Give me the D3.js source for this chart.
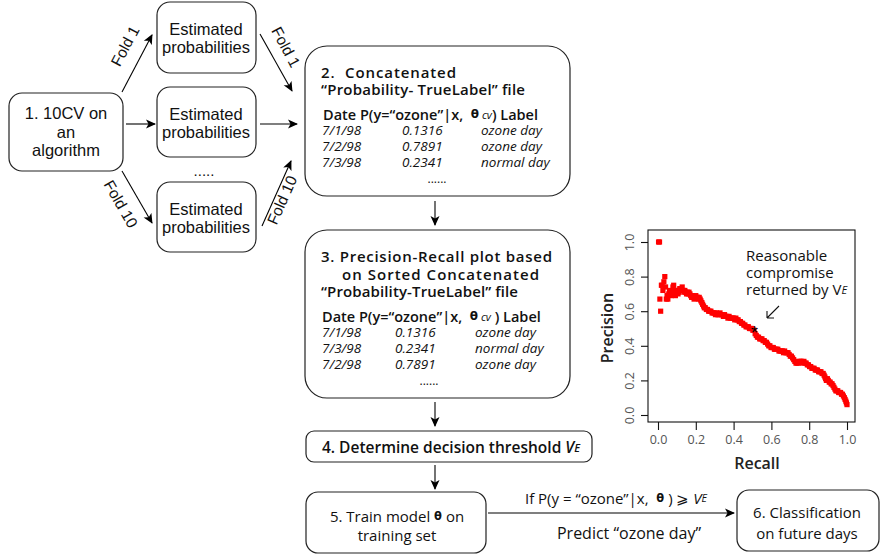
<!DOCTYPE html>
<html>
<head>
<meta charset="utf-8">
<script src="https://cdn.jsdelivr.net/npm/d3@7"></script>
<style>
  html, body { margin: 0; padding: 0; background: #fff; }
  svg { display: block; }
</style>
</head>
<body>
<svg id="fig" width="881" height="559"></svg>
<script>
// ---- Precision-recall points of the sorted concatenated 10CV probabilities ----
const recall = [
  0.003,0.008,0.010,0.014,0.018,0.022,0.026,0.031,0.036,0.040,0.044,0.048,0.052,0.057,0.061,0.066,0.070,0.074,0.079,0.083,
  0.088,0.092,0.097,0.101,0.106,0.110,0.115,0.119,0.124,0.128,0.133,0.137,0.142,0.146,0.151,0.155,0.160,0.164,0.169,0.173,
  0.178,0.182,0.187,0.191,0.196,0.200,0.205,0.209,0.214,0.218,0.223,0.227,0.232,0.236,0.241,0.245,0.250,0.256,0.262,0.268,
  0.274,0.280,0.286,0.292,0.298,0.304,0.310,0.316,0.322,0.328,0.334,0.340,0.346,0.352,0.358,0.364,0.370,0.376,0.382,0.388,
  0.394,0.400,0.406,0.412,0.418,0.424,0.430,0.436,0.442,0.448,0.454,0.460,0.466,0.472,0.478,0.484,0.490,0.496,0.502,0.508,
  0.514,0.520,0.526,0.532,0.538,0.544,0.550,0.556,0.562,0.568,0.574,0.580,0.586,0.592,0.598,0.604,0.610,0.616,0.622,0.628,
  0.634,0.640,0.646,0.652,0.658,0.664,0.670,0.676,0.682,0.688,0.694,0.700,0.706,0.712,0.718,0.724,0.730,0.736,0.742,0.748,
  0.754,0.760,0.766,0.772,0.778,0.784,0.790,0.796,0.802,0.808,0.814,0.820,0.826,0.832,0.838,0.844,0.850,0.856,0.862,0.868,
  0.874,0.879,0.883,0.887,0.891,0.896,0.901,0.906,0.911,0.916,0.921,0.926,0.931,0.936,0.941,0.946,0.951,0.956,0.961,0.966,
  0.971,0.976,0.981,0.986,0.990,0.994,0.997,1.000
];
const precision = [
  1.00,1.00,0.67,0.60,0.75,0.75,0.72,0.77,0.80,0.74,0.67,0.69,0.67,0.70,0.72,0.70,0.69,0.71,0.74,0.75,
  0.72,0.69,0.71,0.72,0.70,0.71,0.73,0.73,0.72,0.74,0.72,0.71,0.72,0.71,0.70,0.71,0.70,0.71,0.70,0.69,
  0.68,0.69,0.68,0.67,0.68,0.69,0.68,0.68,0.67,0.68,0.67,0.66,0.65,0.64,0.63,0.62,0.62,0.61,0.61,0.60,
  0.60,0.60,0.59,0.59,0.59,0.58,0.59,0.58,0.58,0.59,0.58,0.58,0.57,0.58,0.57,0.57,0.56,0.57,0.56,0.56,
  0.56,0.56,0.55,0.56,0.55,0.55,0.54,0.54,0.53,0.53,0.52,0.52,0.51,0.51,0.51,0.50,0.50,0.50,0.49,0.49,
  0.47,0.46,0.45,0.45,0.44,0.44,0.44,0.43,0.43,0.42,0.42,0.41,0.40,0.40,0.39,0.39,0.39,0.38,0.38,0.38,
  0.38,0.37,0.37,0.37,0.37,0.36,0.37,0.36,0.36,0.36,0.35,0.34,0.34,0.33,0.32,0.31,0.30,0.30,0.30,0.31,
  0.31,0.31,0.30,0.31,0.30,0.30,0.29,0.29,0.28,0.28,0.27,0.27,0.27,0.26,0.26,0.26,0.25,0.25,0.25,0.24,
  0.24,0.23,0.22,0.21,0.20,0.21,0.20,0.19,0.19,0.18,0.18,0.17,0.16,0.15,0.14,0.14,0.14,0.13,0.13,0.13,
  0.12,0.12,0.11,0.10,0.09,0.08,0.07,0.06
];
// Operating point chosen by V_E
const chosenRecall = 0.51;
const chosenPrecision = 0.50;

const tickValues = [0.0, 0.2, 0.4, 0.6, 0.8, 1.0];

// Example rows of the probability / true-label file
const rowsConcat = [["7/1/98","0.1316","ozone day"],["7/2/98","0.7891","ozone day"],["7/3/98","0.2341","normal day"]];
const rowsSorted = [["7/1/98","0.1316","ozone day"],["7/3/98","0.2341","normal day"],["7/2/98","0.7891","ozone day"]];

const svg = d3.select("#fig");
const ARIAL = "'Liberation Sans', Arial, sans-serif";
const GEO = "'Open Sans', 'Noto Sans', sans-serif";

// arrowhead marker
const defs = svg.append("defs");
defs.append("marker")
  .attr("id", "ah").attr("viewBox", "0 0 10 10")
  .attr("refX", 9).attr("refY", 5)
  .attr("markerWidth", 10).attr("markerHeight", 10)
  .attr("markerUnits", "userSpaceOnUse")
  .attr("orient", "auto")
  .append("path").attr("d", "M0,0.5 L10,5 L0,9.5 L2.5,5 Z").attr("fill", "#000");

function box(x, y, w, h, r) {
  svg.append("rect").attr("x", x).attr("y", y).attr("width", w).attr("height", h)
    .attr("rx", r).attr("ry", r).attr("fill", "#fff").attr("stroke", "#222").attr("stroke-width", 1.2);
}
function arrow(x1, y1, x2, y2) {
  svg.append("line").attr("x1", x1).attr("y1", y1).attr("x2", x2).attr("y2", y2)
    .attr("stroke", "#000").attr("stroke-width", 1.1).attr("marker-end", "url(#ah)");
}
function label(x, y, txt, opts = {}) {
  const t = svg.append("text").attr("x", x).attr("y", y)
    .attr("text-anchor", opts.anchor || "middle")
    .attr("dominant-baseline", "central")
    .attr("font-family", opts.family || ARIAL)
    .attr("font-size", opts.size || 16.5)
    .attr("font-weight", opts.weight || "normal")
    .attr("font-style", opts.style || "normal")
    .attr("fill", opts.fill || "#111")
    .attr("transform", opts.rotate != null ? `rotate(${opts.rotate},${x},${y})` : null)
    .text(txt);
  if (opts.len) t.attr("textLength", opts.len).attr("lengthAdjust", "spacing");
  return t;
}

// ---- Step 1 and per-fold probability boxes ----
box(9, 93, 114, 78, 13);
label(66, 113, "1. 10CV on");
label(66, 132, "an");
label(66, 150, "algorithm");

[[2, 71], [87, 70], [182, 70]].forEach(([y, h]) => {
  box(157, y, 99, h, 13);
  label(206, y + h / 2 - 8.5, "Estimated");
  label(206, y + h / 2 + 9.5, "probabilities");
});
label(204, 170, ".....", { size: 15 });

arrow(122, 92, 152, 35);
arrow(126, 124, 155, 124);
arrow(122, 171, 152, 223);
arrow(260, 34, 292, 91);
arrow(260, 124, 297, 124);
arrow(262, 226, 291, 161);

label(125, 46, "Fold 1", { rotate: -62, size: 15.5 });
label(121, 204, "Fold 10", { rotate: 60, size: 15.5 });
label(286, 47, "Fold 1", { rotate: 62, size: 15.5 });
label(282, 200, "Fold 10", { rotate: -66, size: 15.5 });

// ---- Probability-TrueLabel file boxes ----
function dateLine(x, y, spaced) {
  const t = svg.append("text").attr("x", x).attr("y", y)
    .attr("dominant-baseline", "central")
    .attr("font-family", GEO).attr("font-size", 14.5).attr("font-weight", 600).attr("fill", "#111");
  t.append("tspan").text("Date P(y=\u201Cozone\u201D|x,\u00A0\u00A0");
  t.append("tspan").attr("font-family", "'DejaVu Sans'").attr("font-size", 12).attr("font-weight", "bold").text("\u03B8");
  t.append("tspan").attr("font-size", 11).attr("font-style", "italic").attr("font-weight", "normal")
    .attr("dx", 3).text("cv");
  t.append("tspan").text((spaced ? "\u00A0" : "") + ") Label");
}
function rows(data, y0, xs) {
  data.forEach((r, i) => {
    r.forEach((v, j) => {
      label(xs[j], y0 + i * 16, v, { anchor: "start", family: GEO, size: 13.5, style: "italic", weight: 500 });
    });
  });
}
const HEAD = { anchor: "start", family: GEO, size: 15, weight: 600 };

box(305, 46, 265, 150, 22);
label(321, 72, "2.\u00A0 Concatenated", { ...HEAD, len: 135 });
label(321, 89, "\u201CProbability- TrueLabel\u201D file", { ...HEAD, len: 204 });
dateLine(323, 114, false);
rows(rowsConcat, 130, [322, 402, 481]);
label(437, 178, "......", { family: GEO, size: 12 });

box(305, 230, 265, 168, 22);
label(321, 256, "3. Precision-Recall plot based", { ...HEAD, len: 231 });
label(342, 274, "on Sorted Concatenated", { ...HEAD, len: 197 });
label(321, 291, "\u201CProbability-TrueLabel\u201D file", { ...HEAD, len: 197 });
dateLine(322, 316, true);
rows(rowsSorted, 332, [322, 395, 475]);
label(429, 380, "......", { family: GEO, size: 12 });

arrow(435, 201, 435, 225);
arrow(435, 402, 435, 426);

// ---- Threshold, training and classification ----
box(306, 431, 286, 31, 8);
{
  const t = label(451, 447, "4. Determine decision threshold ", { family: GEO, size: 15.5, weight: 600 });
  t.append("tspan").attr("font-style", "italic").text("V");
  t.append("tspan").attr("font-style", "italic").attr("font-size", 11).text("E");
}
arrow(435, 465, 435, 489);

box(306, 492, 180, 61, 12);
{
  const t = label(397, 516, "5. Train model ", { family: GEO, size: 15, weight: 500 });
  t.append("tspan").attr("font-family", "'DejaVu Sans'").attr("font-size", 11.5).attr("font-weight", "bold").text("\u03B8");
  t.append("tspan").text(" on");
}
label(397, 535, "training set", { family: GEO, size: 15, weight: 500 });

arrow(488, 513, 734, 513);
{
  const t = label(616, 498, "If P(y = \u201Cozone\u201D|x,\u00A0 ", { family: GEO, size: 15, weight: 500 });
  t.append("tspan").attr("font-family", "'DejaVu Sans'").attr("font-size", 11.5).attr("font-weight", "bold").text("\u03B8");
  t.append("tspan").text("\u00A0) \u2A7E ");
  t.append("tspan").attr("font-style", "italic").text("V");
  t.append("tspan").attr("font-style", "italic").attr("font-size", 10.5).text("E");
}
label(629, 533, "Predict \u201Cozone day\u201D", { family: GEO, size: 16, weight: 500 });

box(737, 490, 142, 61, 12);
label(807, 512, "6. Classification", { family: GEO, size: 15, weight: 500 });
label(807, 533, "on future days", { family: GEO, size: 15, weight: 500 });

// ---- Precision-recall plot ----
const x = d3.scaleLinear().domain([0, 1]).range([658, 847]);
const y = d3.scaleLinear().domain([0, 1]).range([415, 242]);
const plot = svg.append("g");

plot.append("rect").attr("x", 648).attr("y", 230).attr("width", 207).attr("height", 192)
  .attr("fill", "none").attr("stroke", "#111").attr("stroke-width", 1.1);

const xAxis = plot.append("g").attr("transform", "translate(0,422)")
  .call(d3.axisBottom(x).tickValues(tickValues).tickFormat(d3.format(".1f")).tickSize(8).tickPadding(5));
const yAxis = plot.append("g").attr("transform", "translate(648,0)")
  .call(d3.axisLeft(y).tickValues(tickValues).tickFormat(d3.format(".1f")).tickSize(7).tickPadding(5));
[xAxis, yAxis].forEach(a => {
  a.select(".domain").remove();
  a.selectAll(".tick line").attr("stroke", "#111").attr("stroke-width", 1.1);
  a.selectAll(".tick text").attr("font-family", GEO).attr("font-size", 12.5).attr("fill", "#555");
});
yAxis.selectAll(".tick text")
  .attr("text-anchor", "middle").attr("dy", null).attr("dominant-baseline", "central")
  .attr("x", -19)
  .attr("transform", "rotate(-90,-19,0)");

label(607, 328, "Precision", { family: GEO, size: 16, weight: 600, rotate: -90, fill: "#222" });
label(757, 463, "Recall", { family: GEO, size: 16, weight: 600, fill: "#222" });

const pts = recall.map((r, i) => ({ r, p: precision[i] }));
plot.append("g").selectAll("rect").data(pts).join("rect")
  .attr("x", d => x(d.r) - 2.6).attr("y", d => y(d.p) - 2.6)
  .attr("width", 5.2).attr("height", 5.2).attr("fill", "#f00");

// chosen threshold marker and its note
label(x(chosenRecall), y(chosenPrecision) + 4, "*", { family: ARIAL, size: 18, fill: "#000" });
const NOTE = { anchor: "start", family: GEO, size: 15, weight: 500 };
label(746, 255, "Reasonable", NOTE);
label(746, 272, "compromise", NOTE);
{
  const t = label(746, 289, "returned by V", NOTE);
  t.append("tspan").attr("font-style", "italic").attr("font-size", 11).text("E");
}
svg.append("path").attr("d", "M779,306 L767,318 M767,318 L767,311 M767,318 L774,318")
  .attr("stroke", "#111").attr("stroke-width", 1.1).attr("fill", "none");
</script>
</body>
</html>
